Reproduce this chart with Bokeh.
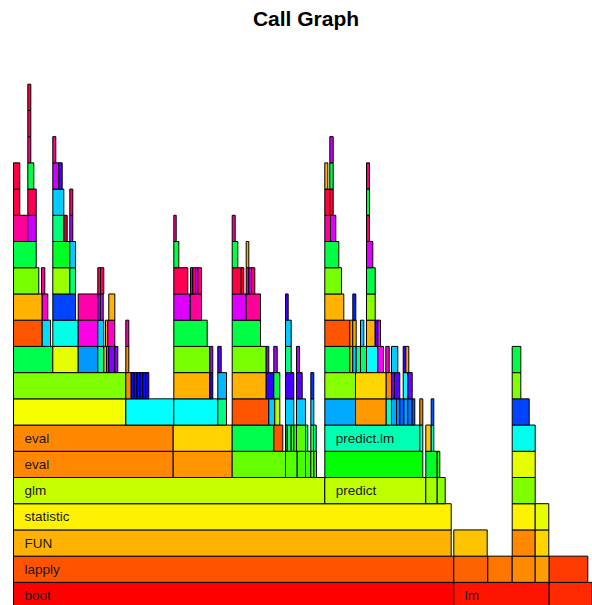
from bokeh.plotting import figure
from bokeh.models import ColumnDataSource, Range1d
from bokeh.core.properties import value
from bokeh.embed import file_html
from bokeh.resources import INLINE

# ---- data: one list of (start, end, function) per stack depth, time in samples ----
depth_01 = [(0, 440.3, "boot"), (440.3, 535.7, "lm"), (535.7, 578.7, "")]
depth_02 = [(0, 440.3, "lapply"), (440.3, 474.3, ""), (474.3, 498.7, ""), (498.7, 521.7, ""),
            (521.7, 535.7, ""), (535.7, 574.3, "")]
depth_03 = [(0, 437.7, "FUN"), (440.3, 473.7, ""), (498.7, 521.7, ""), (521.7, 535.3, "")]
depth_04 = [(0, 437.7, "statistic"), (498.7, 521.7, ""), (521.7, 535.3, "")]
depth_05 = [(0, 311.3, "glm"), (311.3, 412.3, "predict"), (412.3, 423.7, ""), (423.7, 431.7, ""),
            (498.7, 521.7, "")]
depth_06 = [(0, 159.7, "eval"), (159.7, 218.7, ""), (218.7, 272, ""), (272, 283.7, ""),
            (283.7, 292, ""), (292, 297.3, ""), (297.3, 300.3, ""), (300.3, 303, ""),
            (311.3, 409.3, ""), (412.3, 423.7, ""), (423.7, 426.3, ""), (498.7, 521.7, "")]
depth_07 = [(0, 159.7, "eval"), (159.7, 218.7, ""), (218.7, 260.3, ""), (260.3, 269.3, ""),
            (272, 273.7, ""), (273.7, 277.7, ""), (277.7, 280.3, ""), (280.3, 283, ""),
            (283, 292, ""), (292, 294.3, ""), (297.3, 300, ""), (300, 302.7, ""),
            (311.3, 406.3, "predict.lm"), (406.3, 409.3, ""), (412.3, 417.7, ""),
            (417.7, 420.3, ""), (498.7, 521.7, "")]
depth_08 = [(0, 112.3, ""), (112.3, 160.3, ""), (160.3, 204.3, ""), (204.3, 213, ""),
            (218.7, 255.3, ""), (255.3, 261.3, ""), (261.3, 266.3, ""), (272, 280.3, ""),
            (283, 292, ""), (297.3, 300.3, ""), (311.3, 342, ""), (342, 372.7, ""),
            (372.7, 378, ""), (378, 383, ""), (383, 386.3, ""), (386.3, 390.3, ""),
            (390.3, 394.3, ""), (394.3, 398.7, ""), (398.7, 401.3, ""), (406.3, 409.3, ""),
            (417.7, 420.3, ""), (498.7, 515.7, "")]
depth_09 = [(0, 112.3, ""), (112.3, 117.7, ""), (117.7, 120.6, ""), (120.6, 123.5, ""),
            (123.5, 126.4, ""), (126.4, 129.3, ""), (129.3, 132.2, ""), (132.2, 135.3, ""),
            (160.3, 196.3, ""), (196.3, 199.3, ""), (204.3, 213, ""), (218.7, 252.7, ""),
            (252.7, 260.3, ""), (260.3, 266.3, ""), (272, 280.3, ""), (283, 288.7, ""),
            (297.3, 300.3, ""), (311.3, 342, ""), (342, 372.7, ""), (372.7, 378, ""),
            (378, 381, ""), (381, 386.3, ""), (389.7, 394.3, ""), (394.3, 398.7, ""),
            (498.7, 507.3, "")]
depth_10 = [(0, 39.3, ""), (39.3, 64.7, ""), (64.7, 84.3, ""), (84.3, 90.3, ""), (90.3, 93, ""),
            (93, 95.3, ""), (95.3, 101.3, ""), (101.3, 104.3, ""), (112.3, 115.3, ""),
            (160.3, 196.3, ""), (196.3, 199.3, ""), (204.3, 207.7, ""), (218.7, 252.7, ""),
            (252.7, 255.3, ""), (260.3, 263.7, ""), (272, 277.7, ""), (283, 286, ""),
            (311.3, 336.3, ""), (336.3, 339.3, ""), (339.3, 342.7, ""), (342.7, 347, ""),
            (347, 353, ""), (353, 364.3, ""), (364.3, 370, ""), (372.3, 375.7, ""),
            (378, 384.3, ""), (389.7, 392.3, ""), (392.3, 395.3, ""), (498.7, 507.3, "")]
depth_11 = [(0, 28.7, ""), (28.7, 37, ""), (39.3, 64.7, ""), (64.7, 84.3, ""), (84.3, 90.3, ""),
            (92, 94.3, ""), (94.3, 101.3, ""), (112.3, 115.3, ""), (160.3, 193.7, ""),
            (218.7, 247, ""), (272, 277.7, ""), (311.3, 336.3, ""), (336.3, 339.3, ""),
            (339.3, 342.7, ""), (347, 350.3, ""), (353, 361.7, ""), (361.7, 364.3, ""),
            (364.3, 367, "")]
depth_12 = [(0, 28.7, ""), (28.7, 34.3, ""), (39.3, 62, ""), (64.7, 84.3, ""), (84.3, 87, ""),
            (87, 89.7, ""), (95.3, 101.3, ""), (160.3, 176.3, ""), (177, 188, ""),
            (218.7, 232.7, ""), (232.7, 247, ""), (272, 274.7, ""), (311.3, 330.3, ""),
            (339.3, 342.3, ""), (353, 361.7, "")]
depth_13 = [(0, 25.3, ""), (28, 31.3, ""), (39.3, 56.3, ""), (56.3, 62, ""), (84.3, 87, ""),
            (87, 90.3, ""), (160.3, 174.3, ""), (177, 179.3, ""), (179.3, 182, ""),
            (182, 184.3, ""), (184.3, 188, ""), (218.7, 227.7, ""), (227.7, 230.3, ""),
            (232.7, 235.3, ""), (235.3, 238, ""), (238, 241.3, ""), (311.3, 328, ""),
            (353, 361.7, "")]
depth_14 = [(0, 22.7, ""), (39.3, 56.3, ""), (56.3, 62, ""), (160.3, 165.3, ""),
            (218.7, 224.3, ""), (232.7, 235.3, ""), (311.3, 325.3, ""), (353, 359.3, "")]
depth_15 = [(0, 14.3, ""), (14.3, 22.7, ""), (39.3, 50.3, ""), (50.3, 53.7, ""), (56.3, 59.3, ""),
            (160.3, 162.7, ""), (218.7, 221.7, ""), (311.3, 317, ""), (317, 322.3, ""),
            (353, 356, "")]
depth_16 = [(0, 6.3, ""), (14.3, 22.7, ""), (39.3, 50.3, ""), (56.3, 59.3, ""),
            (311.3, 316.3, ""), (316.3, 319.7, ""), (353, 356, "")]
depth_17 = [(0, 6.3, ""), (14.3, 20.3, ""), (39.3, 45.3, ""), (45.3, 48.7, ""),
            (311.3, 314.3, ""), (316.3, 319.7, ""), (353, 356, "")]
depth_18 = [(14.3, 17.3, ""), (39.3, 42.3, ""), (316.3, 319.7, "")]
depth_19 = [(14.3, 17.3, "")]
depth_20 = [(14.3, 17.3, "")]

# ---- styles: fill colour of each frame, same order as above ----
fill_01 = ["#FF0000", "#FF1400", "#FF2A00"]
fill_02 = ["#FF5300", "#FF6200", "#FF7500", "#FF8A00", "#FF9C00", "#FF3A00"]
fill_03 = ["#FFB300", "#FFC400", "#FF8800", "#FFD300"]
fill_04 = ["#FFF200", "#FFF200", "#E6FF00"]
fill_05 = ["#C8FF00", "#BFFF00", "#A6FF00", "#8CFF00", "#80FF00"]
fill_06 = ["#FF8800", "#FF9600", "#66FF00", "#55FF00", "#48FF00", "#3CFF00", "#66FF00",
           "#22FF22", "#00FF00", "#00FF2A", "#33FF00", "#E6FF00"]
fill_07 = ["#FF8800", "#FFD200", "#00FF4D", "#FF5500", "#33FF33", "#22FF66", "#44FF22",
           "#22FF44", "#55FF00", "#00FF66", "#22FF55", "#00FF88", "#00FFB3", "#00FFD5",
           "#FFC800", "#00FFD5", "#00FFEE"]
fill_08 = ["#F5FF00", "#00FFFF", "#00FFFF", "#00FF80", "#FF5500", "#00CCFF", "#B3FF00",
           "#00CCFF", "#00CCFF", "#00CCFF", "#00AAFF", "#FF9900", "#00FFCC", "#00AAFF",
           "#0088FF", "#0066FF", "#0099FF", "#0077FF", "#0055FF", "#E08800", "#0055FF",
           "#0044FF"]
fill_09 = ["#80FF00", "#FF8800", "#0011FF", "#2200FF", "#0011FF", "#2200FF", "#0011FF",
           "#2200FF", "#FFB300", "#2200FF", "#00BBFF", "#FFB000", "#3300FF", "#00FF44",
           "#4400FF", "#5500FF", "#0033FF", "#88FF00", "#FFD700", "#FF8800", "#6600FF",
           "#5500FF", "#00FFFF", "#7700FF", "#80FF00"]
fill_10 = ["#00FF4D", "#E6FF00", "#0099FF", "#00FF99", "#FFAA00", "#0088FF", "#8800FF",
           "#9900FF", "#FF8800", "#77FF00", "#AA00FF", "#5500FF", "#77FF00", "#AA00FF",
           "#AA00FF", "#00FF88", "#AA00FF", "#00FF44", "#FFAA00", "#00CCFF", "#00FF99",
           "#00FF66", "#00FFFF", "#FF00FF", "#FF00CC", "#00CCFF", "#3300FF", "#FFAA00",
           "#00FF44"]
fill_11 = ["#FF5500", "#00DDFF", "#00FFE6", "#FF00E6", "#00CCFF", "#FFAA00", "#FF00CC",
           "#FF00AA", "#00FF44", "#00FF44", "#00CCFF", "#FF5500", "#FF9900", "#FFAA00",
           "#00CCFF", "#FFB300", "#4400FF", "#FF00FF"]
fill_12 = ["#FFB300", "#FF00CC", "#0044FF", "#FF00AA", "#8800FF", "#CC00FF", "#FFB300",
           "#DD00FF", "#FF0099", "#DD00FF", "#FF0099", "#4400FF", "#FFB300", "#0022FF",
           "#88FF00"]
fill_13 = ["#77FF00", "#FF0099", "#99FF00", "#00FF77", "#FF0066", "#FF0055", "#FF0055",
           "#AA00FF", "#FF0066", "#AA00FF", "#FF0066", "#FF0044", "#FF0033", "#FF0044",
           "#BB00FF", "#FF0055", "#77FF00", "#00FF44"]
fill_14 = ["#00FF44", "#00FF22", "#00CCFF", "#00FF44", "#00FF44", "#FFAA00", "#00FF44",
           "#DD00FF"]
fill_15 = ["#FF0099", "#CC00FF", "#00FF80", "#CC0033", "#AA00FF", "#FF0099", "#FF0099",
           "#FF0099", "#DD00FF", "#FF0055"]
fill_16 = ["#FF0044", "#FF0055", "#00CCFF", "#FF0066", "#FF0044", "#FF0033", "#00FF44"]
fill_17 = ["#FF0044", "#00FF44", "#CC00FF", "#5500FF", "#FFB300", "#00FF44", "#FF0066"]
fill_18 = ["#FF0088", "#FF0088", "#CC00FF"]
fill_19 = ["#FF0055"]
fill_20 = ["#FF0044"]

depths = [depth_01, depth_02, depth_03, depth_04, depth_05, depth_06, depth_07, depth_08,
          depth_09, depth_10, depth_11, depth_12, depth_13, depth_14, depth_15, depth_16,
          depth_17, depth_18, depth_19, depth_20]
fills = [fill_01, fill_02, fill_03, fill_04, fill_05, fill_06, fill_07, fill_08, fill_09,
         fill_10, fill_11, fill_12, fill_13, fill_14, fill_15, fill_16, fill_17, fill_18,
         fill_19, fill_20]

left, right, bottom, top, color = [], [], [], [], []
lx, ly, lt = [], [], []
for d, (frames, cols) in enumerate(zip(depths, fills), start=1):
    for (s, e, name), c in zip(frames, cols):
        left.append(s); right.append(e)
        bottom.append(d - 1); top.append(d)
        color.append(c)
        if name:
            lx.append(s + 11)
            ly.append(d - 0.5)
            lt.append(name)

p = figure(width=592, height=605, output_backend="svg", toolbar_location=None,
           x_range=Range1d(-13, 579), y_range=Range1d(0.118, 23.192),
           min_border=0, min_border_left=0, min_border_right=0,
           min_border_top=0, min_border_bottom=0)
p.axis.visible = False
p.grid.visible = False
p.outline_line_color = None
p.background_fill_color = "white"
p.border_fill_color = "white"

src = ColumnDataSource(dict(left=left, right=right, bottom=bottom, top=top, color=color))
p.quad(left="left", right="right", bottom="bottom", top="top", fill_color="color",
       line_color="black", line_width=1, source=src)

lsrc = ColumnDataSource(dict(x=lx, y=ly, text=lt))
p.text(x="x", y="y", text="text", source=lsrc, text_font=value("Liberation Sans"),
       text_font_size="13.5px", text_baseline="middle", text_align="left",
       text_color="#1a1a1a")

p.text(x=[292.5], y=[22.50], text=["Call Graph"], text_font=value("Liberation Sans"),
       text_font_size="21px", text_font_style="bold", text_align="center",
       text_baseline="middle", text_color="black")

open("out.html", "w").write(file_html(p, INLINE))
